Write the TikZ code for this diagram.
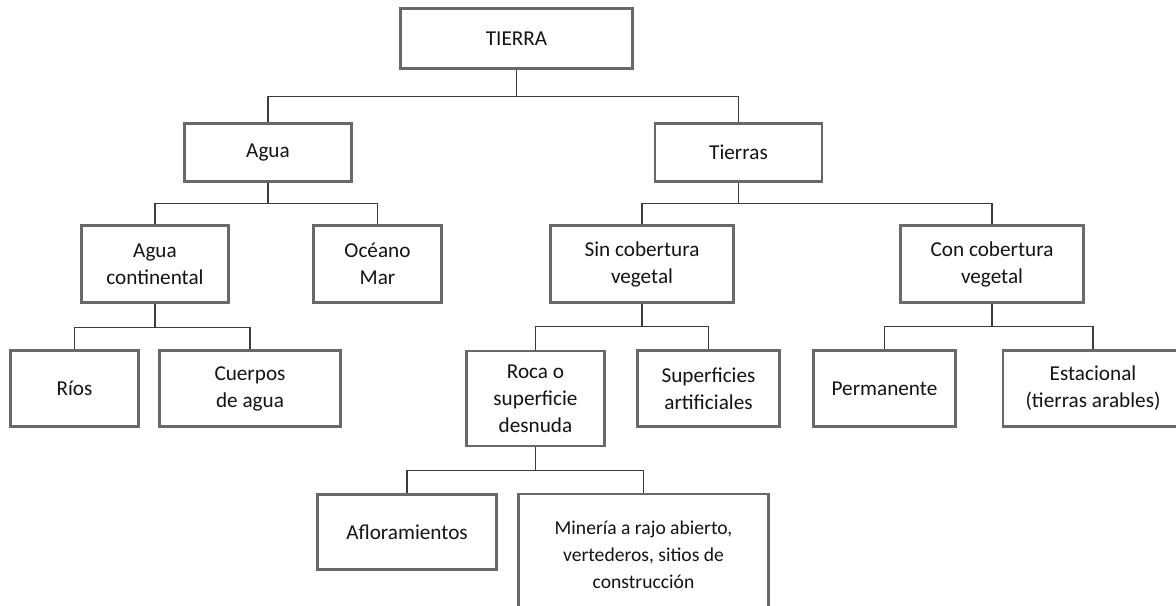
\documentclass[tikz,border=0pt]{standalone}
\usepackage{fontspec}
\setmainfont{Carlito}
\definecolor{boxgray}{RGB}{105,105,105}
\definecolor{linegray}{RGB}{60,60,60}
\definecolor{txtgray}{RGB}{20,20,20}

\begin{document}
\begin{tikzpicture}[
  x=0.5pt, y=-0.5pt,
  box/.style={rectangle, draw=boxgray, line width=1.25pt, align=center, inner sep=0pt, font=\fontsize{10.6}{13.5}\selectfont, text=txtgray},
  midtxt/.style={font=\fontsize{9.8}{13.5}\selectfont},
  link/.style={draw=linegray, line width=0.7pt}
]
  \useasboundingbox (0,0) rectangle (1176,605);
  \clip (0,0) rectangle (1176,605);
  \fill[white] (0,0) rectangle (1176,605);

  % --- top levels ---
  \node[box, minimum width=116pt, minimum height=30pt] (tierra) at (516.5,38.5) {TIERRA};
  \node[box, minimum width=83.5pt, minimum height=29pt] (agua) at (268,152.5) {Agua};
  \node[box, minimum width=83.5pt, minimum height=29pt] (tierras) at (738.5,152.5) {Tierras};

  % --- third level ---
  \node[box, minimum width=73.5pt, minimum height=38.5pt] (aguacont) at (155,264) {Agua\\continental};
  \node[box, minimum width=64pt, minimum height=38.5pt] (oceano) at (377.5,264) {Océano\\Mar};
  \node[box, minimum width=91.5pt, minimum height=38.5pt] (sincob) at (642,264) {Sin cobertura\\vegetal};
  \node[box, minimum width=91.5pt, minimum height=38.5pt] (concob) at (992,264) {Con cobertura\\vegetal};

  % --- fourth level ---
  \node[box, minimum width=64pt, minimum height=38pt] (rios) at (74.5,388.5) {Ríos};
  \node[box, minimum width=90.5pt, minimum height=38pt] (cuerpos) at (250,388.5) {Cuerpos\\de agua};
  \node[box, minimum width=69pt, minimum height=47.5pt] (roca) at (535.5,398.5) {Roca o\\superficie\\desnuda};
  \node[box, minimum width=71pt, minimum height=38pt] (superf) at (708.5,388.5) {Superficies\\artificiales};
  \node[box, minimum width=71pt, minimum height=38pt] (perm) at (884.5,388.5) {Permanente};
  \node[box, minimum width=90pt, minimum height=38pt] (estac) at (1093,388.5) {Estacional\\(tierras arables)};

  % --- bottom level ---
  \node[box, minimum width=89.5pt, minimum height=37.5pt] (aflor) at (407,532) {Afloramientos};
  \node[box, midtxt, minimum width=125pt, minimum height=61pt] (mineria) at (643.5,555) {Minería a rajo abierto,\\vertederos, sitios de\\construcción};

  % connectors
  \draw[link] (tierra.south) -- ++(0,27) -| (agua.north);
  \draw[link] (tierra.south) -- ++(0,27) -| (tierras.north);
  \draw[link] (agua.south) -- ++(0,21) -| (aguacont.north);
  \draw[link] (agua.south) -- ++(0,21) -| (oceano.north);
  \draw[link] (tierras.south) -- ++(0,21) -| (sincob.north);
  \draw[link] (tierras.south) -- ++(0,21) -| (concob.north);
  \draw[link] (aguacont.south) -- ++(0,23.5) -| (rios.north);
  \draw[link] (aguacont.south) -- ++(0,23.5) -| (cuerpos.north);
  \draw[link] (sincob.south) -- ++(0,23) -| (roca.north);
  \draw[link] (sincob.south) -- ++(0,23) -| (superf.north);
  \draw[link] (concob.south) -- ++(0,23) -| (perm.north);
  \draw[link] (concob.south) -- ++(0,23) -| (estac.north);
  \draw[link] (roca.south) -- ++(0,23.5) -| (aflor.north);
  \draw[link] (roca.south) -- ++(0,23.5) -| (mineria.north);

\end{tikzpicture}
\end{document}
